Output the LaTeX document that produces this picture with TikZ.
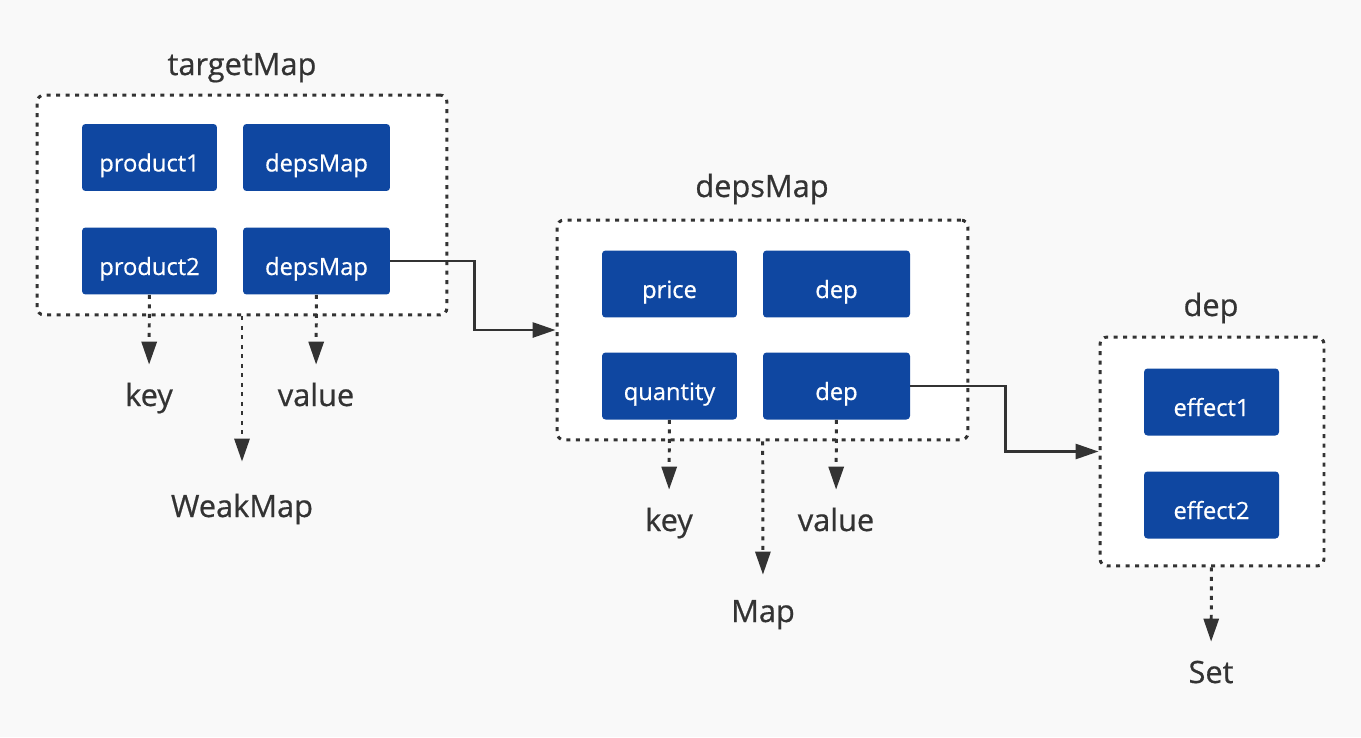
\documentclass[tikz,border=0pt]{standalone}
\usepackage{fontspec}
\setmainfont{Open Sans}[FakeBold=0.6]
\usetikzlibrary{arrows.meta}

\definecolor{bgcol}{HTML}{F9F9F9}
\definecolor{cellblue}{HTML}{0F47A1}
\definecolor{ink}{HTML}{333333}

\begin{document}
\begin{tikzpicture}[
  x=0.02cm, y=-0.02cm,
  group/.style={draw=ink, fill=white, line width=1.7pt, rounded corners=4pt,
                dash pattern=on 0.08cm off 0.11cm, inner sep=0pt},
  cell/.style={fill=cellblue, text=white, rounded corners=2pt, inner sep=0pt,
               minimum width=2.7cm, minimum height=1.34cm,
               text height=0.56cm, text depth=0cm,
               font=\fontsize{13.5}{15}\selectfont},
  wide/.style={minimum width=2.94cm},
  title/.style={text=ink, anchor=base, font=\fontsize{17.5}{20}\selectfont},
  lab/.style={text=ink, anchor=base, font=\fontsize{17.5}{20}\selectfont,
              inner sep=0pt, text height=0.82cm, text depth=0.12cm},
  dotarrow/.style={draw=ink, line width=1.7pt, dash pattern=on 0.08cm off 0.11cm,
                   -{Triangle[length=0.46cm, width=0.3cm]}},
  flow/.style={draw=ink, line width=1.6pt, -{Triangle[length=0.46cm, width=0.3cm]}}
]
\useasboundingbox[fill=bgcol] (0,0) rectangle (1361,737);

% ── targetMap (WeakMap) ──────────────────────────────────────────────
\node[title] (ttitle) at (242,75) {targetMap};
\node[group, minimum width=8.2cm, minimum height=4.4cm] (tgroup) at (242,205) {};
\node[cell]       (prod1)  at (149.5,157.5) {product1};
\node[cell, wide] (tdeps1) at (316.5,157.5) {depsMap};
\node[cell]       (prod2)  at (149.5,261)   {product2};
\node[cell, wide] (tdeps2) at (316.5,261)   {depsMap};

\node[lab] (tkey)  at (149,406) {key};
\node[lab] (tval)  at (316,406) {value};
\node[lab] (weak)  at (242,517) {WeakMap};

\draw[dotarrow] (prod2) -- (tkey);
\draw[dotarrow] (tdeps2) -- (tval);
\draw[dotarrow, shorten >=0.28cm] (tgroup) -- (weak);

% ── depsMap (Map) ────────────────────────────────────────────────────
\node[title] (dtitle) at (762,197) {depsMap};
\node[group, minimum width=8.22cm, minimum height=4.4cm] (dgroup) at (762.5,330) {};
\node[cell]       (price) at (669.5,284) {price};
\node[cell, wide] (dep1)  at (836.5,284) {dep};
\node[cell]       (qty)   at (669.5,386) {quantity};
\node[cell, wide] (dep2)  at (836.5,386) {dep};

\node[lab] (dkey) at (669,531) {key};
\node[lab] (dval) at (836,531) {value};
\node[lab] (map)  at (763,622) {Map};

\draw[dotarrow] (qty) -- (dkey);
\draw[dotarrow] (dep2) -- (dval);
\draw[dotarrow, shorten >=0.12cm] (dgroup) -- (map);

% ── dep (Set) ────────────────────────────────────────────────────────
\node[title] (stitle) at (1211,316) {dep};
\node[group, minimum width=4.48cm, minimum height=4.58cm] (sgroup) at (1212,451.5) {};
\node[cell] (eff1) at (1211.5,402) {effect1};
\node[cell] (eff2) at (1211.5,505) {effect2};

\node[lab] (set) at (1211,683) {Set};
\draw[dotarrow] (sgroup) -- (set);

% ── links between the maps ───────────────────────────────────────────
\draw[flow] (tdeps2.east) -- ++(84,0) |- (dgroup.west);
\draw[flow] (dep2.east) -- ++(95,0) |- (sgroup.west);

\end{tikzpicture}
\end{document}
